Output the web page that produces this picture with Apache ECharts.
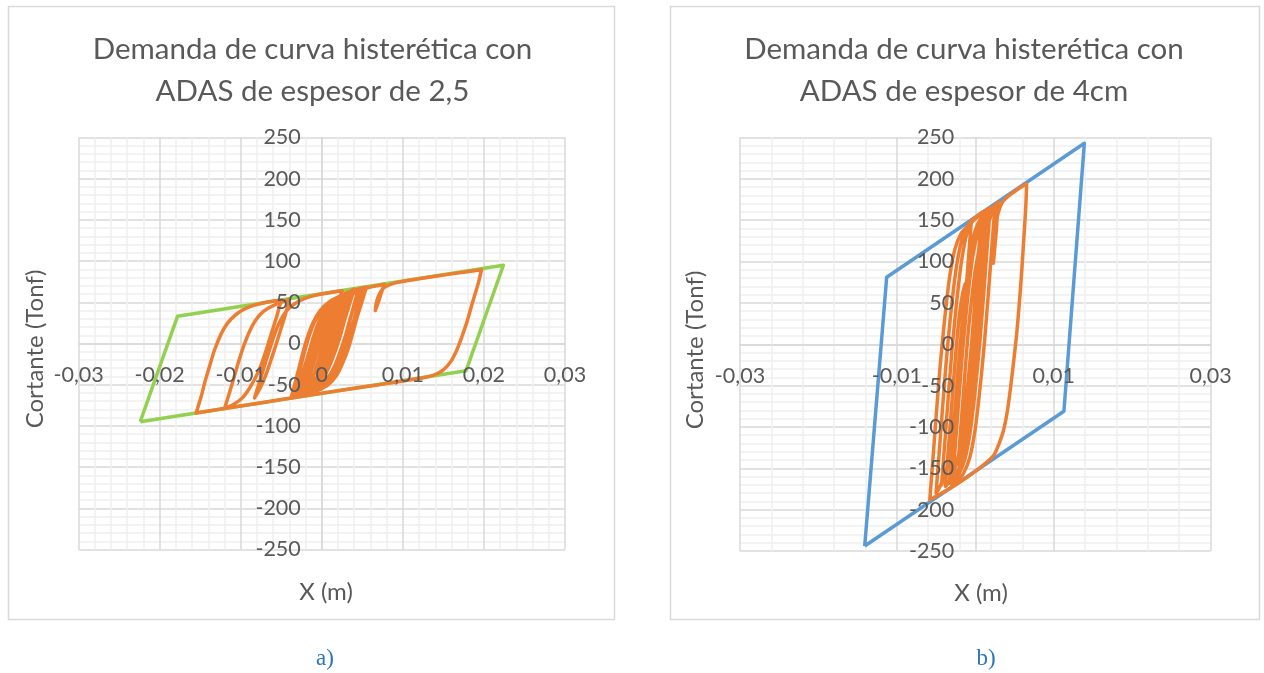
<!DOCTYPE html>
<html>
<head>
<meta charset="utf-8">
<script src="https://cdn.jsdelivr.net/npm/echarts@6/dist/echarts.min.js"></script>
<style>
  html, body { margin: 0; padding: 0; background: #fff; }
  #main { width: 1264px; height: 673px; }
</style>
</head>
<body>
<div id="main"></div>
<script>
// valores
var titleA = 'Demanda de curva histerética con\nADAS de espesor de 2,5';
var titleB = 'Demanda de curva histerética con\nADAS de espesor de 4cm';
var yName = 'Cortante (Tonf)';
var xName = 'X (m)';

// a) envolvente (verde)
var envA = [[-0.0224, -95], [-0.0178, 33], [0.0224, 95], [0.0178, -33], [-0.0224, -95]];
// a) curva histeretica (naranja)
var curveA = [
  [0, 0], [0.0006, 22], [0.0012, 38], [0.0020, 52], [0.0030, 61],
  [0.0024, 42], [0.0018, 24], [0.0012, 6], [0.0007, -12], [0.0000, -31], [-0.0009, -46], [-0.0020, -56],
  [-0.0014, -37], [-0.0008, -18], [-0.0002, 0], [0.0004, 17], [0.0012, 35], [0.0022, 50], [0.0035, 60], [0.0055, 68.5],
  [0.0049, 49], [0.0043, 30], [0.0038, 12], [0.0033, -5], [0.0026, -23], [0.0018, -39], [0.0008, -50], [-0.0005, -57], [-0.0020, -62], [-0.0033, -65.5],
  [-0.0027, -46], [-0.0021, -27], [-0.0015, -8], [-0.0010, 9], [-0.0003, 27], [0.0006, 42], [0.0018, 53], [0.0030, 60], [0.0040, 66],
  [0.0034, 47], [0.0028, 28], [0.0023, 10], [0.0017, -8], [0.0010, -26], [0.0002, -41], [-0.0008, -52], [-0.0020, -59], [-0.0028, -63.5],
  [-0.0022, -44], [-0.0016, -25], [-0.0010, -6], [-0.0005, 11], [0.0002, 29], [0.0011, 44], [0.0023, 55], [0.0040, 63], [0.0060, 68.5], [0.0077, 72],
  [0.0073, 60], [0.0069, 48], [0.0066, 40],
  [0.0067, 48], [0.0070, 58], [0.0075, 66], [0.0083, 71], [0.0095, 74.5], [0.0120, 78.5], [0.0160, 84.5], [0.0197, 89.5],
  [0.0193, 73], [0.0186, 50], [0.0179, 26], [0.0172, 6], [0.0166, -9], [0.0159, -22], [0.0150, -32], [0.0139, -38], [0.0125, -41.5],
  [0.0060, -51.5], [0.0000, -60.4], [-0.0080, -72.7], [-0.0155, -84.3],
  [-0.0149, -65], [-0.0144, -46], [-0.0138, -26], [-0.0132, -7], [-0.0124, 12], [-0.0116, 25], [-0.0106, 35], [-0.0097, 41], [-0.0083, 46.5], [-0.0068, 50], [-0.0050, 52.7],
  [-0.0055, 35], [-0.0061, 16], [-0.0067, -3], [-0.0073, -21], [-0.0080, -38], [-0.0089, -54], [-0.0098, -66], [-0.0109, -74], [-0.0120, -79],
  [-0.0114, -60], [-0.0108, -40], [-0.0102, -20], [-0.0096, -2], [-0.0089, 15], [-0.0081, 29], [-0.0072, 39], [-0.0060, 46], [-0.0040, 53.5],
  [-0.0045, 35], [-0.0051, 16], [-0.0057, -3], [-0.0063, -21], [-0.0069, -38], [-0.0076, -54], [-0.0083, -66],
  [-0.0077, -47], [-0.0071, -28], [-0.0065, -9], [-0.0059, 9], [-0.0052, 26], [-0.0044, 39], [-0.0034, 48], [-0.0020, 55], [0.0000, 60], [0.0025, 64],
  [0.0019, 45], [0.0013, 26], [0.0008, 8], [0.0002, -10], [-0.0005, -28], [-0.0013, -43], [-0.0023, -54], [-0.0036, -63],
  [-0.0031, -48], [-0.0026, -28], [-0.0021, -9], [-0.0016, 8], [-0.0009, 26], [0.0000, 41], [0.0012, 52], [0.0028, 60], [0.0050, 67.5],
  [0.0045, 49], [0.0040, 30], [0.0035, 12], [0.0030, -5], [0.0023, -23], [0.0015, -38], [0.0005, -49], [-0.0008, -56], [-0.0025, -62], [-0.0038, -66.5],
  [-0.0033, -48], [-0.0028, -29], [-0.0023, -10], [-0.0018, 7], [-0.0011, 25], [-0.0002, 40], [0.0010, 51], [0.0026, 59], [0.0045, 66],
  [0.0040, 48], [0.0035, 29], [0.0031, 11], [0.0026, -6], [0.0019, -24], [0.0011, -39], [0.0001, -50], [-0.0012, -57], [-0.0031, -59],
  [-0.0025, -40], [-0.0019, -21], [-0.0013, -2], [-0.0008, 15], [-0.0001, 32], [0.0008, 46], [0.0020, 56], [0.0032, 62],
  [0.0026, 43], [0.0020, 24], [0.0015, 6], [0.0009, -12], [0.0002, -30], [-0.0006, -44], [-0.0015, -53], [-0.0022, -58],
  [-0.0016, -39], [-0.0010, -20], [-0.0004, -1], [0.0001, 16], [0.0008, 33], [0.0017, 46], [0.0028, 56], [0.0036, 62],
  [0.0030, 43], [0.0024, 24], [0.0019, 6], [0.0013, -12], [0.0006, -30], [-0.0002, -44], [-0.0010, -52], [-0.0015, -55],
  [-0.0009, -36], [-0.0003, -17], [0.0003, 2], [0.0008, 19], [0.0015, 35], [0.0024, 48], [0.0035, 58], [0.0046, 65],
  [0.0040, 46], [0.0034, 27], [0.0029, 9], [0.0023, -9], [0.0016, -27], [0.0008, -41], [-0.0002, -51], [-0.0010, -55],
  [-0.0004, -36], [0.0002, -17], [0.0008, 2], [0.0013, 19], [0.0020, 35], [0.0027, 45]
];

// b) envolvente (azul)
var envB = [[-0.0141, -244], [-0.0113, 81], [0.0139, 243], [0.0113, -81], [-0.0141, -244]];
// b) curva histeretica (naranja)
var curveB = [
  [0, 0], [0.0003, 38], [0.0006, 72], [0.0010, 108], [0.0015, 138], [0.0020, 156], [0.0025, 166],
  [0.0023, 141], [0.0020, 104], [0.0017, 66], [0.0012, 6], [0.0007, -44], [0.0003, -79], [-0.0001, -108], [-0.0007, -137], [-0.0015, -156], [-0.0023, -166], [-0.0030, -172],
  [-0.0028, -147], [-0.0025, -110], [-0.0022, -72], [-0.0017, -12], [-0.0012, 38], [-0.0008, 73], [-0.0004, 102], [0.0002, 131], [0.0010, 150], [0.0018, 160], [0.0029, 172],
  [0.0027, 140], [0.0025, 118], [0.0023, 98],
  [0.0024, 118], [0.0026, 140], [0.0029, 158], [0.0034, 171], [0.0042, 179], [0.0052, 186], [0.00655, 194],
  [0.0065, 180], [0.0064, 160], [0.0062, 130], [0.0060, 100], [0.0057, 60], [0.0053, 15], [0.0049, -20], [0.0045, -52], [0.0041, -80], [0.0036, -104], [0.0030, -121], [0.0023, -135],
  [0.0000, -153.6], [-0.0030, -172.9], [-0.0058, -188],
  [-0.0056, -163], [-0.0053, -126], [-0.0050, -88], [-0.0045, -28], [-0.0040, 22], [-0.0036, 57], [-0.0032, 86], [-0.0026, 115], [-0.0018, 134], [-0.0010, 143], [-0.0005, 150],
  [-0.0007, 125], [-0.0010, 88], [-0.0013, 50], [-0.0018, -10], [-0.0023, -60], [-0.0027, -95], [-0.0031, -124], [-0.0037, -153], [-0.0045, -172], [-0.0050, -180],
  [-0.0048, -155], [-0.0045, -118], [-0.0042, -80], [-0.0037, -20], [-0.0032, 30], [-0.0028, 65], [-0.0024, 94], [-0.0018, 123], [-0.0010, 142], [-0.0002, 150], [0.0008, 158],
  [0.0006, 133], [0.0003, 96], [0.0000, 58], [-0.0005, -2], [-0.0010, -52], [-0.0014, -87], [-0.0018, -116], [-0.0024, -145], [-0.0032, -164], [-0.0038, -172],
  [-0.0036, -147], [-0.0033, -110], [-0.0030, -72], [-0.0025, -12], [-0.0020, 38], [-0.0016, 62], [-0.0013, 73],
  [-0.0015, 48], [-0.0018, 11], [-0.0023, -49], [-0.0028, -99], [-0.0032, -128], [-0.0037, -152], [-0.0043, -170],
  [-0.0041, -145], [-0.0038, -108], [-0.0035, -70], [-0.0030, -10], [-0.0025, 40], [-0.0021, 75], [-0.0017, 104], [-0.0011, 133], [-0.0003, 150], [0.0005, 157], [0.0015, 163],
  [0.0013, 138], [0.0010, 101], [0.0007, 63], [0.0002, 3], [-0.0003, -47], [-0.0007, -82], [-0.0011, -111], [-0.0017, -140], [-0.0025, -159], [-0.0033, -168],
  [-0.0031, -143], [-0.0028, -106], [-0.0025, -68], [-0.0020, -8], [-0.0015, 42], [-0.0011, 77], [-0.0007, 106], [-0.0001, 135], [0.0007, 152], [0.0019, 165],
  [0.0017, 140], [0.0014, 103], [0.0011, 65], [0.0006, 5], [0.0001, -45], [-0.0003, -80], [-0.0007, -109], [-0.0013, -138], [-0.0021, -157], [-0.0029, -166],
  [-0.0027, -141], [-0.0024, -104], [-0.0021, -66], [-0.0016, -6], [-0.0011, 44], [-0.0007, 79], [-0.0003, 108], [0.0003, 135], [0.0011, 150],
  [0.0009, 125], [0.0006, 88], [0.0003, 50], [-0.0002, -10], [-0.0007, -60], [-0.0011, -95], [-0.0015, -120], [-0.0022, -145],
  [-0.0020, -120], [-0.0017, -83], [-0.0014, -45], [-0.0009, 15], [-0.0004, 60], [0.0000, 90], [0.0006, 120]
];

var xRange = [-0.03, 0.03];
var xStepA = 0.01;
var xStepB = 0.02;
var yRange = [-250, 250];
var yStep = 50;

var txt = '#595959';
var font = 'Lato';
var gridA = { left: 78.6, top: 137.5, width: 486.4, height: 412 };
var gridB = { left: 740, top: 137.5, width: 470.6, height: 413.5 };

function fmtX(v) {
  return String(Math.round(v * 100) / 100).replace('.', ',');
}

// ejes: los de fondo dibujan la rejilla, los de encima solo las etiquetas
function xAxisOf(idx, step, g, labelsOnly) {
  return {
    gridIndex: idx, type: 'value', position: 'bottom', min: xRange[0], max: xRange[1], interval: step,
    offset: -g.height / 2, z: labelsOnly ? 10 : 0,
    axisLine: { show: !labelsOnly, onZero: false, lineStyle: { color: '#d9d9d9', width: 1.5 } },
    axisTick: { show: false },
    axisLabel: { show: labelsOnly, margin: 21, formatter: fmtX, color: txt, fontSize: 21.5, fontFamily: font },
    splitLine: { show: !labelsOnly, lineStyle: { color: '#d9d9d9', width: 1.5 } },
    minorTick: { show: false, splitNumber: 5 },
    minorSplitLine: { show: !labelsOnly, lineStyle: { color: '#efefef', width: 1.5 } }
  };
}
function yAxisOf(idx, g, labelsOnly) {
  return {
    gridIndex: idx, type: 'value', position: 'left', min: yRange[0], max: yRange[1], interval: yStep,
    offset: -g.width / 2, z: labelsOnly ? 10 : 0,
    axisLine: { show: !labelsOnly, onZero: false, lineStyle: { color: '#d9d9d9', width: 1.5 } },
    axisTick: { show: false },
    axisLabel: { show: labelsOnly, margin: 21, color: txt, fontSize: 21.5, fontFamily: font },
    splitLine: { show: !labelsOnly, lineStyle: { color: '#d9d9d9', width: 1.5 } },
    minorTick: { show: false, splitNumber: 5 },
    minorSplitLine: { show: !labelsOnly, lineStyle: { color: '#efefef', width: 1.5 } }
  };
}

var myChart = echarts.init(document.getElementById('main'), null, { renderer: 'canvas' });
var option = {
  backgroundColor: '#fff',
  animation: false,
  title: [
    { text: titleA, left: 307.5, top: 23, textAlign: 'center',
      textStyle: { fontSize: 29.5, lineHeight: 42, fontWeight: 'normal', color: txt, fontFamily: font } },
    { text: titleB, left: 959, top: 23, textAlign: 'center',
      textStyle: { fontSize: 29.5, lineHeight: 42, fontWeight: 'normal', color: txt, fontFamily: font } }
  ],
  grid: [gridA, gridB],
  xAxis: [xAxisOf(0, xStepA, gridA, false), xAxisOf(1, xStepB, gridB, false),
          xAxisOf(0, xStepA, gridA, true), xAxisOf(1, xStepB, gridB, true)],
  yAxis: [yAxisOf(0, gridA, false), yAxisOf(1, gridB, false),
          yAxisOf(0, gridA, true), yAxisOf(1, gridB, true)],
  graphic: [
    { type: 'rect', shape: { x: 8.5, y: 6.5, width: 606, height: 613 }, style: { fill: null, stroke: '#d9d9d9', lineWidth: 1.5 }, z: -1 },
    { type: 'rect', shape: { x: 670.5, y: 6.5, width: 589, height: 613 }, style: { fill: null, stroke: '#d9d9d9', lineWidth: 1.5 }, z: -1 },
    { type: 'text', x: 35, y: 349, rotation: Math.PI / 2, style: { text: yName, fill: txt, font: '24px Lato', align: 'center', verticalAlign: 'middle' } },
    { type: 'text', x: 695, y: 350, rotation: Math.PI / 2, style: { text: yName, fill: txt, font: '24px Lato', align: 'center', verticalAlign: 'middle' } },
    { type: 'text', x: 326, y: 592, style: { text: xName, fill: txt, font: '24px Lato', align: 'center', verticalAlign: 'middle' } },
    { type: 'text', x: 981, y: 593, style: { text: xName, fill: txt, font: '24px Lato', align: 'center', verticalAlign: 'middle' } },
    { type: 'text', x: 325, y: 659, style: { text: 'a)', fill: '#2E75B6', font: '23px "Liberation Serif"', align: 'center', verticalAlign: 'middle' } },
    { type: 'text', x: 986, y: 659, style: { text: 'b)', fill: '#2E75B6', font: '23px "Liberation Serif"', align: 'center', verticalAlign: 'middle' } }
  ],
  series: [
    { type: 'line', xAxisIndex: 0, yAxisIndex: 0, data: envA, showSymbol: false,
      lineStyle: { color: '#92D050', width: 3.5, join: 'round' } },
    { type: 'line', xAxisIndex: 0, yAxisIndex: 0, data: curveA, showSymbol: false, smooth: 0.25,
      lineStyle: { color: '#ED7D31', width: 3.5, cap: 'round', join: 'round' } },
    { type: 'line', xAxisIndex: 1, yAxisIndex: 1, data: envB, showSymbol: false,
      lineStyle: { color: '#5B9BD5', width: 3.5, join: 'round' } },
    { type: 'line', xAxisIndex: 1, yAxisIndex: 1, data: curveB, showSymbol: false, smooth: 0.25,
      lineStyle: { color: '#ED7D31', width: 3.5, cap: 'round', join: 'round' } }
  ]
};
myChart.setOption(option);
</script>
</body>
</html>
